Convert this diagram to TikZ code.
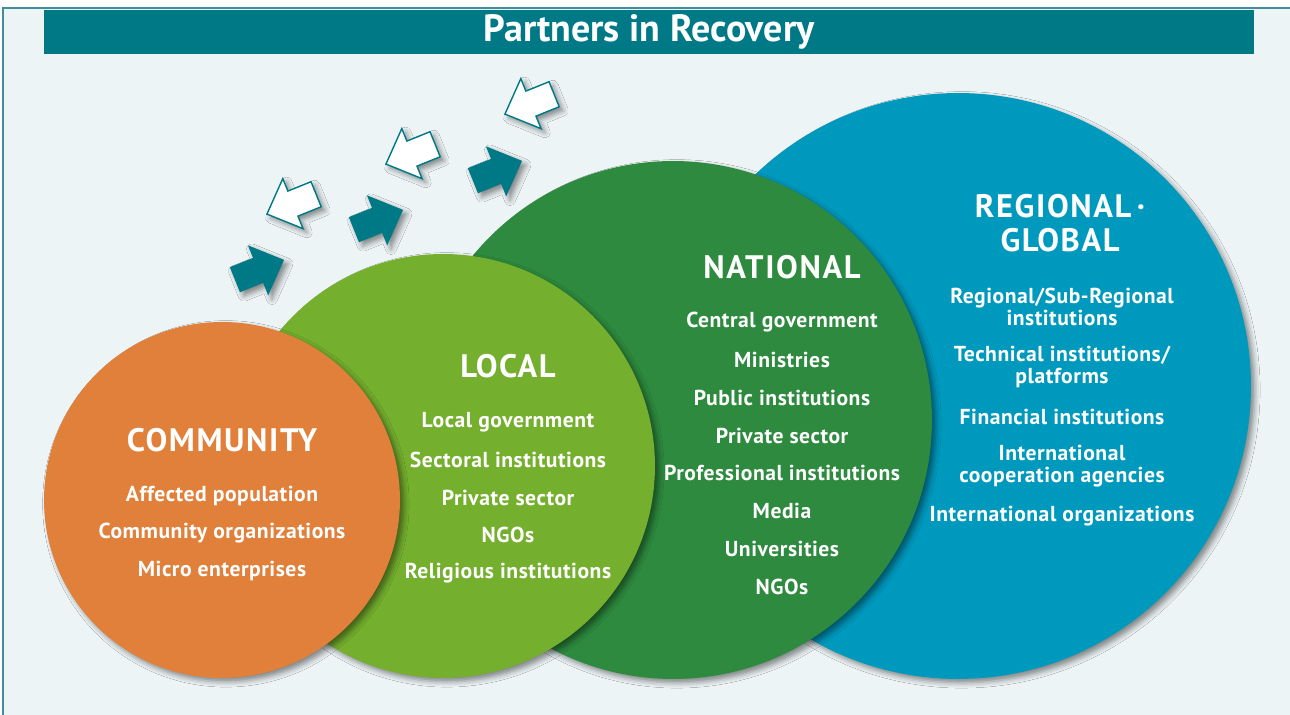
\documentclass[tikz,border=0pt]{standalone}
\usepackage{fontspec}
\setmainfont{PT Sans}
\newfontfamily\itemfont[LetterSpace=2.5]{PT Sans}
\newfontfamily\headfont[LetterSpace=5]{PT Sans}
\usetikzlibrary{shadows.blur}
\definecolor{panelbg}{HTML}{EDF4F6}
\definecolor{panelline}{HTML}{3F8E9E}
\definecolor{recteal}{HTML}{007987}
\definecolor{comorange}{HTML}{E0803A}
\definecolor{locgreen}{HTML}{74AF2E}
\definecolor{natgreen}{HTML}{2D8A3E}
\definecolor{regblue}{HTML}{0099BE}
\tikzset{
  partner arrow/.pic={
    \path[#1] (-26,-13.5) -- (-1,-13.5) -- (-1,-27) -- (27,0) -- (-1,27) -- (-1,13.5) -- (-26,13.5) -- cycle;
  },
  soft shadow/.style={blur shadow={shadow xshift=2.2pt, shadow yshift=-2.2pt, shadow blur radius=3pt, shadow opacity=45}},
  teal arrow/.style={fill=recteal, soft shadow},
  white arrow/.style={fill=white, draw=recteal, line width=0.8pt, soft shadow},
  partner circle/.style={circle, inner sep=0pt, soft shadow},
  heading/.style={text=white, font=\headfont\fontsize{18.5}{19.4}\selectfont\bfseries, align=center},
  item/.style={text=white, font=\itemfont\fontsize{12.3}{12.6}\selectfont\bfseries, align=center, inner sep=0pt},
}
\begin{document}
\begin{tikzpicture}[x=0.02cm, y=0.02cm]
  \useasboundingbox (0,0) rectangle (1290,715);
  % panel and title
  \fill[panelbg] (3,-10) rectangle (1300,707);
  \draw[panelline, line width=0.6pt] (3,-10) -- (3,707) -- (1300,707);
  \node[fill=recteal, minimum width=24.2cm, minimum height=0.88cm, inner sep=0pt,
        text=white, font=\fontsize{21.6}{23}\selectfont\bfseries] (title) at (649,683) {Partners in Recovery};

  % arrows in and out
  \pic[rotate=22] at (259,445) {partner arrow=teal arrow};
  \pic[rotate=22] at (378,495) {partner arrow=teal arrow};
  \pic[rotate=22] at (497,544) {partner arrow=teal arrow};
  \pic[rotate=202] at (292,511) {partner arrow=white arrow};
  \pic[rotate=202] at (411,561) {partner arrow=white arrow};
  \pic[rotate=202] at (530,611) {partner arrow=white arrow};

  % circles, back to front
  \node[partner circle, fill=regblue, minimum size=11.72cm] (regional) at (958,329) {};
  \node[partner circle, fill=natgreen, minimum size=10.36cm] (national) at (673,295) {};
  \node[partner circle, fill=locgreen, minimum size=8.48cm] (local) at (443,249) {};
  \node[partner circle, fill=comorange, minimum size=7.12cm] (community) at (222,215) {};

  % community
  \node[heading] (com-head) at (222,275) {COMMUNITY};
  \foreach \t [count=\i] in {Affected population, Community organizations, Micro enterprises}
    \node[item] (com-\i) at (222,{219-(\i-1)*37.5}) {\t};

  % local
  \node[heading] (loc-head) at (508,349) {LOCAL};
  \foreach \t [count=\i] in {Local government, Sectoral institutions, Private sector, NGOs, Religious institutions}
    \node[item] (loc-\i) at (508,{293-(\i-1)*37.75}) {\t};

  % national
  \node[heading] (nat-head) at (782,448) {NATIONAL};
  \foreach \t [count=\i] in {Central government, Ministries, Public institutions, Private sector,
                             Professional institutions, Media, Universities, NGOs}
    \node[item] (nat-\i) at (782,{393-(\i-1)*37.85}) {\t};

  % regional / global
  \node[heading] (reg-head) at (1060,492) {REGIONAL\,·\\GLOBAL};
  \node[item] (reg-1) at (1062,408) {Regional/Sub-Regional\\institutions};
  \node[item] (reg-2) at (1062,348) {Technical institutions/\\platforms};
  \node[item] (reg-3) at (1062,298) {Financial institutions};
  \node[item] (reg-4) at (1062,249) {International\\cooperation agencies};
  \node[item] (reg-5) at (1062,199) {International organizations};
\end{tikzpicture}
\end{document}
